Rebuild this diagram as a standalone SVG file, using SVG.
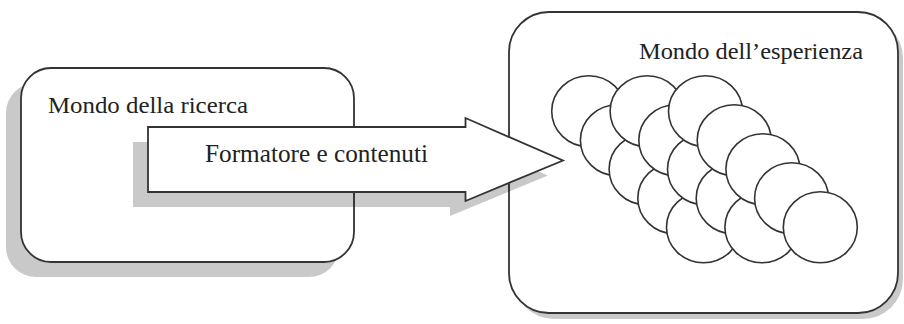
<svg xmlns="http://www.w3.org/2000/svg" width="904" height="324" viewBox="0 0 904 324">
<style>
.shadow{fill:#c9c9c9;stroke:none}
.box{fill:#fff;stroke:#333;stroke-width:1.8}
.ball{fill:#fff;stroke:#333;stroke-width:1.6}
.lbl{font-family:"Liberation Serif","Times New Roman",serif;fill:#222}
</style>
<rect width="904" height="324" fill="#fff"/>
<g id="node-ricerca">
<rect class="shadow" x="6" y="83" width="333" height="194" rx="30" ry="30"/>
<rect class="box" x="21" y="68" width="333" height="194" rx="30" ry="30"/>
<text class="lbl" x="48" y="113" font-size="24" textLength="200" lengthAdjust="spacingAndGlyphs">Mondo della ricerca</text>
</g>
<g id="node-esperienza">
<rect class="shadow" x="514" y="18" width="389" height="301" rx="40" ry="40"/>
<rect class="box" x="509" y="12" width="389" height="301" rx="40" ry="40"/>
<text class="lbl" x="639" y="59" font-size="24" textLength="224" lengthAdjust="spacingAndGlyphs">Mondo dell’esperienza</text>
<g id="cluster">
<ellipse class="ball" cx="588.7" cy="111.2" rx="37" ry="35.5"/>
<ellipse class="ball" cx="617.4" cy="140.2" rx="37" ry="35.5"/>
<ellipse class="ball" cx="646.1" cy="169.2" rx="37" ry="35.5"/>
<ellipse class="ball" cx="674.8" cy="198.2" rx="37" ry="35.5"/>
<ellipse class="ball" cx="703.5" cy="227.2" rx="37" ry="35.5"/>
<ellipse class="ball" cx="647.1" cy="111.2" rx="37" ry="35.5"/>
<ellipse class="ball" cx="675.8" cy="140.2" rx="37" ry="35.5"/>
<ellipse class="ball" cx="704.5" cy="169.2" rx="37" ry="35.5"/>
<ellipse class="ball" cx="733.2" cy="198.2" rx="37" ry="35.5"/>
<ellipse class="ball" cx="761.9" cy="227.2" rx="37" ry="35.5"/>
<ellipse class="ball" cx="705.5" cy="111.2" rx="37" ry="35.5"/>
<ellipse class="ball" cx="734.2" cy="140.2" rx="37" ry="35.5"/>
<ellipse class="ball" cx="762.9" cy="169.2" rx="37" ry="35.5"/>
<ellipse class="ball" cx="791.6" cy="198.2" rx="37" ry="35.5"/>
<ellipse class="ball" cx="820.3" cy="227.2" rx="37" ry="35.5"/>
</g>
</g>
<g id="connectors">
<polygon points="133,142 450,142 450,133 548,175.5 450,216 450,207 133,207" fill="#000" fill-opacity="0.21"/>
<polygon class="box" points="148,127 465.5,127 465.5,118 563,160.5 465.5,201 465.5,192 148,192"/>
<text class="lbl" x="205" y="162" font-size="25" textLength="223" lengthAdjust="spacingAndGlyphs">Formatore e contenuti</text>
</g>
</svg>
